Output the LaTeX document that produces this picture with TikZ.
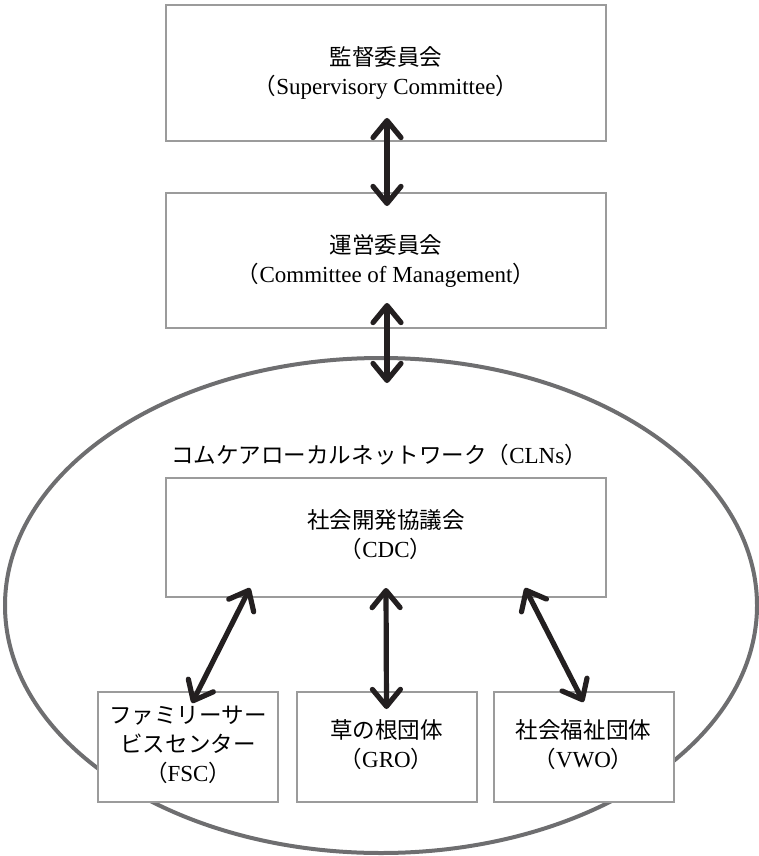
\documentclass[tikz,border=0pt]{standalone}
\usepackage{fontspec}
\setmainfont{Liberation Serif}
\newfontfamily\jp{Noto Sans CJK JP}[Scale=0.98]
\usetikzlibrary{arrows.meta,shapes.geometric,calc}
\definecolor{boxgray}{HTML}{9B9B9B}
\definecolor{ringgray}{HTML}{6E6E70}
\definecolor{arrowblack}{HTML}{231F20}
\newcommand{\lpar}{{\jp （}}
\newcommand{\rpar}{{\jp ）}}
\begin{document}
\begin{tikzpicture}[x=1pt,y=-1pt,
  every node/.style={font=\fontsize{23}{29}\selectfont, align=center, inner sep=0pt},
  bigbox/.style={draw=boxgray, line width=2pt, fill=white, rectangle, minimum width=440pt},
  smallbox/.style={draw=boxgray, line width=2pt, fill=white, rectangle, minimum width=180pt, minimum height=110pt},
  ring/.style={draw=ringgray, line width=4pt, ellipse, minimum width=752pt, minimum height=495pt},
  conn/.style={draw=arrowblack, line width=5.2pt, line cap=round,
    {Straight Barb[length=17pt,width=28pt,line cap=round,line join=round]}-{Straight Barb[length=17pt,width=28pt,line cap=round,line join=round]}}
]
\useasboundingbox (0,0) rectangle (759,856);
\node[ring] (net) at (381,605.5) {};
\node[bigbox, minimum height=136pt] (b1) at (386,73) {{\jp 監督委員会}\\\lpar Supervisory Committee\rpar};
\node[bigbox, minimum height=135pt] (b2) at (386,260.5) {{\jp 運営委員会}\\\lpar Committee of Management\rpar};
\node (cln) at (379,455) {{\jp コムケアローカルネットワーク}\lpar CLNs\rpar};
\node[bigbox, minimum height=119pt] (b3) at (386,537.5) {\raisebox{-8pt}{\begin{tabular}{@{}c@{}}{\jp 社会開発協議会}\\\lpar CDC\rpar\end{tabular}}};
\node[smallbox] (fsc) at (188,747) {\raisebox{-7pt}{\begin{tabular}{@{}c@{}}{\jp ファミリーサー}\\{\jp ビスセンター}\\\lpar FSC\rpar\end{tabular}}};
\node[smallbox] (gro) at (386.5,747) {\raisebox{-6pt}{\begin{tabular}{@{}c@{}}{\jp 草の根団体}\\\lpar GRO\rpar\end{tabular}}};
\node[smallbox] (vwo) at (583.5,747) {\raisebox{-6pt}{\begin{tabular}{@{}c@{}}{\jp 社会福祉団体}\\\lpar VWO\rpar\end{tabular}}};
\draw[conn] ($(b1.south)+(1,-24)$) -- ($(b2.north)+(1,14)$);
\draw[conn] ($(b2.south)+(1,-26)$) -- ($(b2.south |- net.north)+(1,27)$);
\draw[conn] ($(b3.south)+(-136,-10)$) -- ($(fsc.north)+(4,12)$);
\draw[conn] ($(b3.south)+(0,-10)$) -- ($(gro.north)+(0,18)$);
\draw[conn] ($(b3.south)+(139,-10)$) -- ($(vwo.north)+(0,11)$);
\end{tikzpicture}
\end{document}
